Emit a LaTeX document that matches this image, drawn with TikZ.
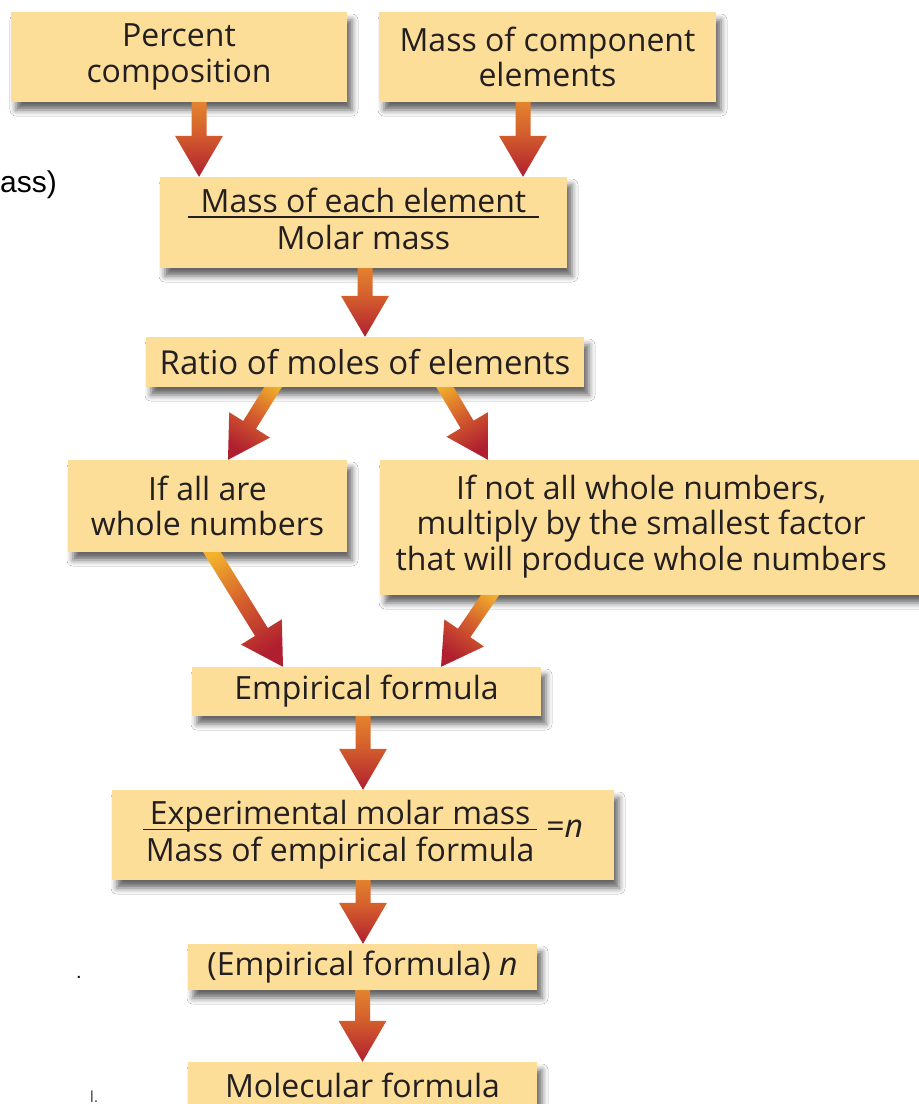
\documentclass[tikz,border=0pt]{standalone}
\usepackage{fontspec}
\setmainfont{Open Sans}
\newfontfamily\arialfont{Liberation Sans}
\usetikzlibrary{calc,shadows.blur}
\definecolor{boxfill}{HTML}{FCDE98}
\definecolor{txt}{HTML}{231F20}
\definecolor{arrtop}{HTML}{E8912E}
\definecolor{arrmid}{HTML}{D45E2D}
\definecolor{arrbot}{HTML}{B01F30}
\definecolor{arryel}{HTML}{F2B22C}
\tikzset{
  flowbox/.style={fill=boxfill, draw=none, inner sep=0pt, text=txt,
    font=\fontsize{32}{35.5}\selectfont,
    blur shadow={shadow xshift=5pt, shadow yshift=-8pt, shadow blur radius=6pt, shadow opacity=60}},
  vshade/.style={top color=arrtop, bottom color=arrbot, middle color=arrmid},
  dshade/.style={top color=arryel, bottom color=arrbot, middle color=arrmid},
  fragtext/.style={inner sep=0pt, text=black}
}
% fraction-like text: #1 side extension, #2 numerator, #3 denominator
\newcommand\fracpart[3]{{\setlength\arrayrulewidth{1.6pt}\renewcommand\arraystretch{0}%
  \begin{tabular}{@{\hspace{#1}}c@{\hspace{#1}}}\raisebox{0pt}[24pt][4pt]{#2}\\\hline
  \raisebox{0pt}[31.4pt][8pt]{#3}\end{tabular}}}
% fat shaded arrow from #1 to #2, shading options #3
\newcommand\fatarrow[3]{%
  \begin{scope}
    \clip (#1) ++(-1000,0) rectangle ++(2000,2000);
    \coordinate (fas) at ($(#1)!-12pt!(#2)$);
    \coordinate (fah) at ($(#2)!41pt!(#1)$);
    \shade[#3] ($(fas)!7.5pt!90:(#2)$) -- ($(fah)!7.5pt!90:(#2)$) -- ($(fah)!24pt!90:(#2)$)
      -- (#2) -- ($(fah)!24pt!-90:(#2)$) -- ($(fah)!7.5pt!-90:(#2)$) -- ($(fas)!7.5pt!-90:(#2)$) -- cycle;
  \end{scope}}
\begin{document}
\begin{tikzpicture}[x=1pt,y=-1pt]
\fill[white] (0,0) rectangle (919,1104);
\useasboundingbox (0,0) rectangle (919,1104);

% boxes
\node[flowbox, align=center, minimum width=336pt, minimum height=90pt] (pc) at (179,57) {Percent\\composition};
\node[flowbox, align=center, minimum width=337pt, minimum height=90pt] (mc) at (547.5,57) {Mass of component\\elements};
\node[flowbox, minimum width=407pt, minimum height=91pt] (me) at (363.5,222.5) {\fracpart{13pt}{Mass of each element}{Molar mass}};
\node[flowbox, minimum width=438pt, minimum height=50pt] (ratio) at (365,362) {\fontsize{33}{36}\selectfont Ratio of moles of elements};
\node[flowbox, align=center, minimum width=279pt, minimum height=92pt] (wh) at (207.5,506) {If all are\\whole numbers};
\node[flowbox, anchor=west, minimum height=135pt] (nw) at (380,527.5) {\makebox[522pt]{\begin{tabular}{@{}c@{}}If not all whole numbers,\\multiply by the smallest factor\\that will produce whole numbers\end{tabular}}\rule{40pt}{0pt}};
\node[flowbox, minimum width=349pt, minimum height=49pt] (emp) at (366.5,691.5) {Empirical formula};
\node[flowbox, minimum width=502pt, minimum height=90pt] (exp) at (363,835) {\raisebox{-4pt}{\fracpart{3pt}{Experimental molar mass}{Mass of empirical formula}}\hspace{9pt}=\textit{n}};
\node[flowbox, minimum width=349pt, minimum height=46pt] (empn) at (362.5,967) {(Empirical formula) \textit{n}};
\node[flowbox, minimum width=349pt, minimum height=46pt] (mol) at (362.5,1085) {Molecular formula};

% fragments of surrounding page
\node[fragtext, font=\arialfont\fontsize{30}{36}\selectfont, anchor=base east] (frag1) at (57,192) {ass)};
\node[fragtext, font=\arialfont\fontsize{20}{24}\selectfont, anchor=base] (frag2) at (79,978) {.};
\node[fragtext, font=\arialfont\fontsize{16}{20}\selectfont, anchor=base west, text=black!70] (frag3) at (90,1102) {l.};

% arrow end points
\coordinate (a1s) at ([xshift=20pt]pc.south);
\coordinate (a1e) at (a1s |- me.north);
\coordinate (a2s) at ([xshift=-24.5pt]mc.south);
\coordinate (a2e) at (a2s |- me.north);
\coordinate (a3s) at (ratio.north |- me.south);
\coordinate (a4s) at ([xshift=-92pt]ratio.south);
\coordinate (a4e) at ([xshift=20.5pt]wh.north);
\coordinate (a5s) at ([xshift=80pt]ratio.south);
\coordinate (a5e) at ([xshift=108pt]nw.north west);
\coordinate (a6s) at ([xshift=4.5pt]wh.south);
\coordinate (a6e) at ([xshift=-83.5pt]emp.north);
\coordinate (a7s) at ([xshift=110pt]nw.south west);
\coordinate (a7e) at ([xshift=74.5pt]emp.north);
\coordinate (a8s) at (exp.north |- emp.south);
\coordinate (a9e) at (exp.south |- empn.north);
\coordinate (a10e) at (empn.south |- mol.north);

% arrows
\fatarrow{a1s}{a1e}{vshade}
\fatarrow{a2s}{a2e}{vshade}
\fatarrow{a3s}{ratio.north}{vshade}
\fatarrow{a4s}{a4e}{dshade, shading angle=-32}
\fatarrow{a5s}{a5e}{dshade, shading angle=31}
\fatarrow{a6s}{a6e}{dshade, shading angle=32}
\fatarrow{a7s}{a7e}{dshade, shading angle=-34}
\fatarrow{a8s}{exp.north}{vshade}
\fatarrow{exp.south}{a9e}{vshade}
\fatarrow{empn.south}{a10e}{vshade}
\end{tikzpicture}
\end{document}
